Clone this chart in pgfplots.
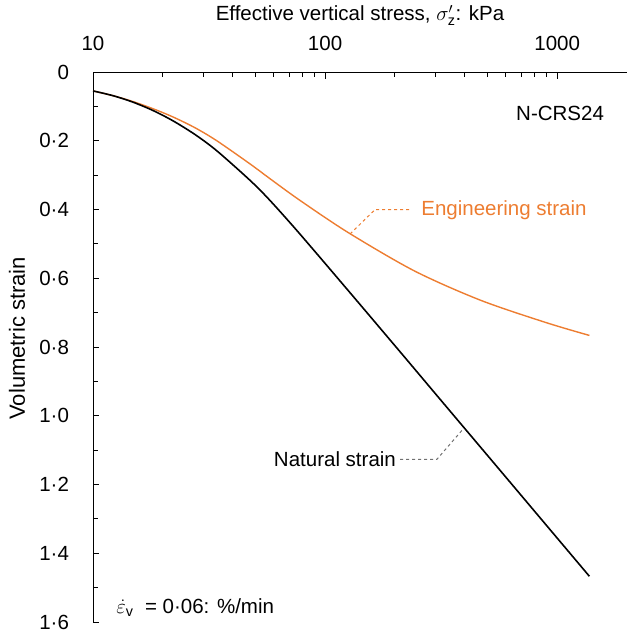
\documentclass[border=0pt]{standalone}
\usepackage{fontspec}
\setmainfont{Liberation Sans}
\usepackage{pgfplots}
\pgfplotsset{compat=1.18}
\definecolor{eng}{HTML}{ED7D31}
\definecolor{ptr}{HTML}{707070}
\begin{document}
\fontsize{20.5}{24}\selectfont
\begin{tikzpicture}
\begin{axis}[
  scale only axis, width=534pt, height=550pt,
  xmode=log, xmin=10, xmax=2000,
  ymin=0, ymax=1.6, y dir=reverse,
  axis x line=top, axis y line=left,
  axis line style={-, line width=0.9pt},
  xtick={10,100,1000}, xticklabels={10,100,1000},
  minor xtick={20,30,40,50,60,70,80,90,200,300,400,500,600,700,800,900},
  ytick={0,0.2,0.4,0.6,0.8,1.0,1.2,1.4,1.6},
  yticklabels={0,0·2,0·4,0·6,0·8,1·0,1·2,1·4,1·6},
  minor ytick={0.1,0.3,0.5,0.7,0.9,1.1,1.3,1.5},
  tick align=inside,
  major tick length=6.5pt, minor tick length=5pt,
  tick style={black, line width=0.9pt},
  xticklabel style={yshift=14pt},
  yticklabel style={xshift=-17pt},
  every axis x label/.style={at={(axis description cs:0.5,1.103)}, anchor=center},
  every axis y label/.style={at={(axis description cs:-0.1423,0.516)}, anchor=center, rotate=90, font=\fontsize{22}{26}\selectfont},
  xlabel={Effective vertical stress, $\sigma'_{\mathrm{z}}$: kPa},
  ylabel={Volumetric strain},
  clip=false,
]
\addplot[eng, line width=1.4pt, smooth] coordinates {
(10,0.055) (12.2,0.0689) (14.87,0.086) (18.15,0.1069) (22.1,0.1307) (27.5,0.1621)
(34.1,0.1997) (47.5,0.2674) (57.9,0.3104) (78,0.3736) (126.5,0.4681) (243,0.5789)
(467,0.6638) (897,0.7291) (1377,0.7663)};
\addplot[black, line width=1.6pt, smooth] coordinates {
(10,0.055) (12.2,0.0689) (14.87,0.0877) (18.15,0.1121) (22.1,0.1419) (27.5,0.1818)
(34.1,0.2288) (47.5,0.3152) (57.9,0.3737) (78,0.4717) (128.2,0.6423) (216.7,0.824)
(313,0.952) (568,1.159) (934,1.332) (1377,1.467)};
\draw[eng, dashed, line width=1pt] (axis cs:128.2,0.471) -- (axis cs:164.3,0.400) -- (axis cs:231,0.400);
\draw[ptr, dashed, line width=1pt] (axis cs:210.4,1.127) -- (axis cs:303,1.127) -- (axis cs:393.6,1.0385);
\node[anchor=west, text=eng, inner sep=0pt] at (axis cs:259.5,0.401) {Engineering strain};
\node[anchor=east, inner sep=0pt] at (axis cs:202.3,1.127) {Natural strain};
\node[anchor=east, inner sep=0pt] at (axis cs:1594,0.122) {N-CRS24};
\node[anchor=west, inner sep=0pt] at (axis cs:12.6,1.557) {$\dot{\varepsilon}_{\mathrm{v}}$\ \ = 0·06: \%/min};
\end{axis}
\pgfresetboundingbox
\path (-93pt,-13pt) rectangle (534pt,622pt);
\end{tikzpicture}
\end{document}
